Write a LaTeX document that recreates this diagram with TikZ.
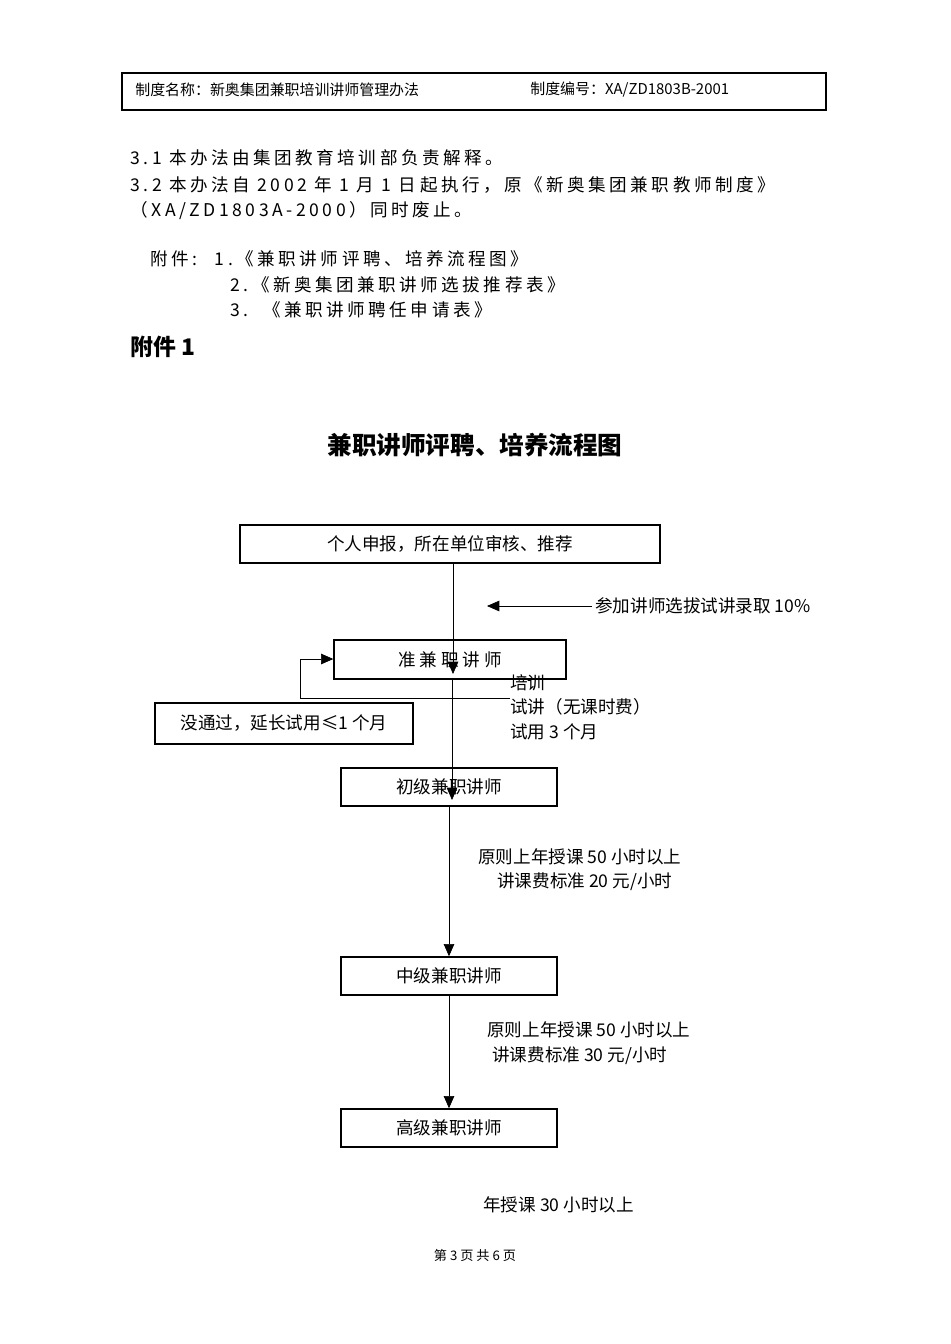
\documentclass[tikz,border=0pt]{standalone}
\usepackage{fontspec}
\setmainfont{Noto Sans CJK SC}
\newfontfamily\widefont[LetterSpace=20]{Noto Sans CJK SC}
\usetikzlibrary{arrows.meta,positioning}

\begin{document}
\begin{tikzpicture}[x=0.02cm,y=-0.02cm,
          box/.style={draw,thick,inner sep=0pt,font=\fontsize{10}{12}\selectfont},
          txt/.style={anchor=west,inner sep=0pt,font=\fontsize{10}{12}\selectfont},
          body/.style={anchor=west,inner sep=0pt,font=\widefont\fontsize{10}{12}\selectfont},
          flow/.style={-{Triangle[length=7pt,width=6pt]}}
        ]
        \useasboundingbox (0,0) rectangle (950,1344);

        % 表头
        \draw[thick] (122,73) rectangle (826,110);
        \node[txt,font=\fontsize{8.5}{10}\selectfont] (hname) at (135,90) {制度名称：新奥集团兼职培训讲师管理办法};
        \node[txt,font=\fontsize{8.5}{10}\selectfont] (hno) at (530,90) {制度编号：XA/ZD1803B-2001};

        % 正文
        \node[body] (l1) at (130,158) {3.1 本办法由集团教育培训部负责解释。};
        \node[body] (l2) at (130,185) {3.2 本办法自 2002 年 1 月 1 日起执行，原《新奥集团兼职教师制度》};
        \node[body] (l3) at (130,211) {（XA/ZD1803A-2000）同时废止。};
        \node[body] (a0) at (150,259) {附件:\quad 1.《兼职讲师评聘、培养流程图》};
        \node[body] (a2) at (230,285) {2.《新奥集团兼职讲师选拔推荐表》};
        \node[body] (a3) at (230,310) {3.\ \ 《兼职讲师聘任申请表》};
        \node[txt,font=\fontsize{13}{15}\selectfont\bfseries] (fj) at (130,347) {附件 1};
        \node[font=\fontsize{14}{16}\selectfont\bfseries] (title) at (475,445) {兼职讲师评聘、培养流程图};

        % 流程框
        \node[box,minimum width=8.4cm,minimum height=0.76cm] (apply) at (450,544) {个人申报，所在单位审核、推荐};
        \node[box,minimum width=4.64cm,minimum height=0.78cm] (pre) at (450,659.5) {准 兼 职 讲 师};
        \node[box,minimum width=5.16cm,minimum height=0.82cm] (fail) at (284,723.5) {没通过，延长试用≤1 个月};
        \node[box,minimum width=4.32cm,minimum height=0.76cm] (junior) at (449,787) {初级兼职讲师};
        \node[box,minimum width=4.32cm,minimum height=0.76cm] (middle) at (449,976) {中级兼职讲师};
        \node[box,minimum width=4.32cm,minimum height=0.76cm] (senior) at (449,1128) {高级兼职讲师};

        % 连线
        \coordinate (p1) at (453,674);
        \draw[flow] (apply.south -| p1) -- (p1);
        \coordinate (p2) at (452,800);
        \draw[flow] (pre.south -| p2) -- (p2);
        \draw[flow] (junior.south) -- (middle.north);
        \draw[flow] (middle.south) -- (senior.north);
        \coordinate (s1) at (592,606);
        \coordinate (s2) at (487,606);
        \draw[flow] (s1) -- (s2);
        \coordinate (b1) at (510,698);
        \coordinate (b2) at (300,698);
        \coordinate (b3) at (300,659);
        \draw[flow] (b1) -- (b2) -- (b3) -- (pre.west |- b3);

        % 说明文字
        \node[txt] (n1) at (595,606) {参加讲师选拔试讲录取 10\%};
        \node[txt] (n2) at (510,683) {培训};
        \node[txt] (n3) at (510,707) {试讲（无课时费）};
        \node[txt] (n4) at (510,732) {试用 3 个月};
        \node[txt] (n5) at (478,857) {原则上年授课 50 小时以上};
        \node[txt] (n6) at (497,882) {讲课费标准 20 元/小时};
        \node[txt] (n7) at (487,1030) {原则上年授课 50 小时以上};
        \node[txt] (n8) at (492,1056) {讲课费标准 30 元/小时};
        \node[txt] (n9) at (483,1205) {年授课 30 小时以上};

        % 页脚
        \node[font=\fontsize{7.5}{9}\selectfont] (foot) at (475,1255) {第 3 页 共 6 页};
\end{tikzpicture}
\end{document}
